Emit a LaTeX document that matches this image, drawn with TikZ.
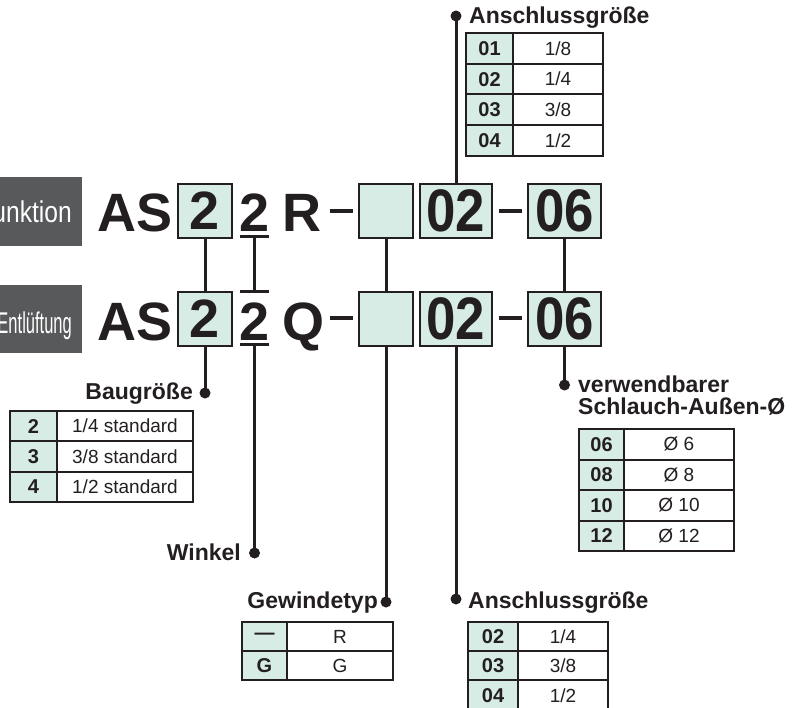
\documentclass[tikz,border=0pt]{standalone}
\usepackage{fontspec}
\setmainfont{Liberation Sans}
\definecolor{mint}{RGB}{214,236,228}
\definecolor{ink}{RGB}{35,31,32}
\definecolor{slate}{RGB}{88,89,91}
\tikzset{
  big/.style={font=\fontsize{54}{54}\selectfont\bfseries, text=ink, inner sep=0pt},
  codebox/.style={draw=ink, line width=2.5pt, fill=mint, minimum height=54pt, inner sep=0pt,
    font=\fontsize{54}{54}\selectfont\bfseries, text=ink},
  conn/.style={draw=ink, line width=3pt},
  dashbar/.style={draw=ink, line width=4pt},
  lbl/.style={font=\fontsize{23}{23}\selectfont\bfseries, text=ink, inner sep=0pt},
  tagtext/.style={font=\fontsize{30}{30}\selectfont, text=white, inner sep=0pt},
  cellc/.style={draw=ink, line width=2pt, fill=mint, inner sep=0pt, anchor=north west,
    font=\fontsize{20}{20}\selectfont\bfseries, text=ink},
  cellv/.style={draw=ink, line width=2pt, fill=white, inner sep=0pt, anchor=north west,
    font=\fontsize{19}{19}\selectfont, text=ink},
}
\newcommand{\mytrow}[8]{%
  \node[cellc, minimum width={(#3-#2)*1pt}, minimum height=#6pt] (#1c) at (#2,#5) {#7};
  \node[cellv, minimum width={(#4-#3)*1pt}, minimum height=#6pt] (#1v) at (#3,#5) {#8};}
\begin{document}
\begin{tikzpicture}[x=1pt,y=-1pt]
\useasboundingbox (0,0) rectangle (805,708);

% dark tags
\fill[slate] (-40,177) rectangle (82,246);
\fill[slate] (-40,285) rectangle (82,353);
\node[tagtext, anchor=base east] (tagF) at (72,223) {\scalebox{0.82}[1]{Funktion}};
\node[tagtext, anchor=base east] (tagE) at (72,333) {\scalebox{0.55}[1]{Entlüftung}};

% ---- top row
\node[big, anchor=base west] (as1) at (97,232) {AS};
\node[codebox, minimum width=54pt] (s1) at (205,211) {2};
\node[big, anchor=base] (w1) at (254.5,232) {2};
\coordinate (u1) at (254.5,237);
\draw[conn] ([xshift=-14.5pt]u1) -- ([xshift=14.5pt]u1);
\node[big, anchor=base west] (r1) at (282,232) {R};
\draw[dashbar] (330,211) -- (353,211);
\node[codebox, minimum width=54pt] (e1) at (386,211) {};
\node[codebox, minimum width=72pt] (p1) at (456,211) {\scalebox{0.88}[1]{\fontsize{60}{60}\selectfont 02}};
\draw[dashbar] (499,211) -- (522,211);
\node[codebox, minimum width=73pt] (k1) at (564.5,211) {\scalebox{0.88}[1]{\fontsize{60}{60}\selectfont 06}};

% ---- bottom row
\node[big, anchor=base west] (as2) at (97,340) {AS};
\node[codebox, minimum width=54pt] (s2) at (205,319) {2};
\node[big, anchor=base] (w2) at (254.5,340) {2};
\coordinate (o2) at (254.5,292);
\coordinate (u2) at (254.5,344);
\draw[conn] ([xshift=-14.5pt]o2) -- ([xshift=14.5pt]o2);
\draw[conn] ([xshift=-14.5pt]u2) -- ([xshift=14.5pt]u2);
\node[big, anchor=base west] (q2) at (282,340) {Q};
\draw[dashbar] (330,318) -- (353,318);
\node[codebox, minimum width=54pt] (e2) at (386,319) {};
\node[codebox, minimum width=72pt] (p2) at (456,319) {\scalebox{0.88}[1]{\fontsize{60}{60}\selectfont 02}};
\draw[dashbar] (499,318) -- (522,318);
\node[codebox, minimum width=73pt] (k2) at (564.5,319) {\scalebox{0.88}[1]{\fontsize{60}{60}\selectfont 06}};

% ---- dot coordinates
\coordinate (dA1) at (456,16);
\coordinate (dB) at (205,393);
\coordinate (dW) at (254.5,553);
\coordinate (dG) at (386,602);
\coordinate (dA2) at (456,599);
\coordinate (dV) at (564.5,385);

% ---- connectors
\draw[conn] (s1.south) -- (s2.north);
\draw[conn] (s2.south) -- (dB);
\draw[conn] (u1) -- (o2);
\draw[conn] (u2) -- (dW);
\draw[conn] (e1.south) -- (e2.north);
\draw[conn] (e2.south) -- (dG);
\draw[conn] (dA1) -- (p1.north);
\draw[conn] (p2.south) -- (dA2);
\draw[conn] (k1.south) -- (k2.north);
\draw[conn] (k2.south) -- (dV);
\foreach \d in {dA1,dB,dW,dG,dA2,dV} \fill[ink] (\d) circle (5.5pt);

% ---- labels
\node[lbl, anchor=base west] (tA1) at (469,24) {Anschlussgröße};
\node[lbl, anchor=base east] (tB) at (193,399) {Baugröße};
\node[lbl, anchor=base east] (tW) at (241,560) {Winkel};
\node[lbl, anchor=base east] (tG) at (378,608) {Gewindetyp};
\node[lbl, anchor=base west] (tA2) at (468,608) {Anschlussgröße};
\node[lbl, anchor=base west] (tV1) at (578,392) {verwendbarer};
\node[lbl, anchor=base west] (tV2) at (578,414) {Schlauch-Außen-Ø};

% ---- tables
\mytrow{ta1}{465}{512}{602}{32}{30.75}{01}{1/8}
\mytrow{ta2}{465}{512}{602}{62.75}{30.75}{02}{1/4}
\mytrow{ta3}{465}{512}{602}{93.5}{30.75}{03}{3/8}
\mytrow{ta4}{465}{512}{602}{124.25}{30.75}{04}{1/2}

\mytrow{tb1}{9}{56}{192}{410}{30.33}{2}{1/4 standard}
\mytrow{tb2}{9}{56}{192}{440.33}{30.33}{3}{3/8 standard}
\mytrow{tb3}{9}{56}{192}{470.67}{30.33}{4}{1/2 standard}

\mytrow{tv1}{578}{623}{733}{428}{30.5}{06}{Ø 6}
\mytrow{tv2}{578}{623}{733}{458.5}{30.5}{08}{Ø 8}
\mytrow{tv3}{578}{623}{733}{489}{30.5}{10}{Ø 10}
\mytrow{tv4}{578}{623}{733}{519.5}{30.5}{12}{Ø 12}

\mytrow{tg1}{241}{286}{392}{621}{29}{—}{R}
\mytrow{tg2}{241}{286}{392}{650}{29}{G}{G}

\mytrow{tc1}{467}{517}{607}{621}{29}{02}{1/4}
\mytrow{tc2}{467}{517}{607}{650}{29}{03}{3/8}
\mytrow{tc3}{467}{517}{607}{679}{31}{04}{1/2}
\end{tikzpicture}
\end{document}
